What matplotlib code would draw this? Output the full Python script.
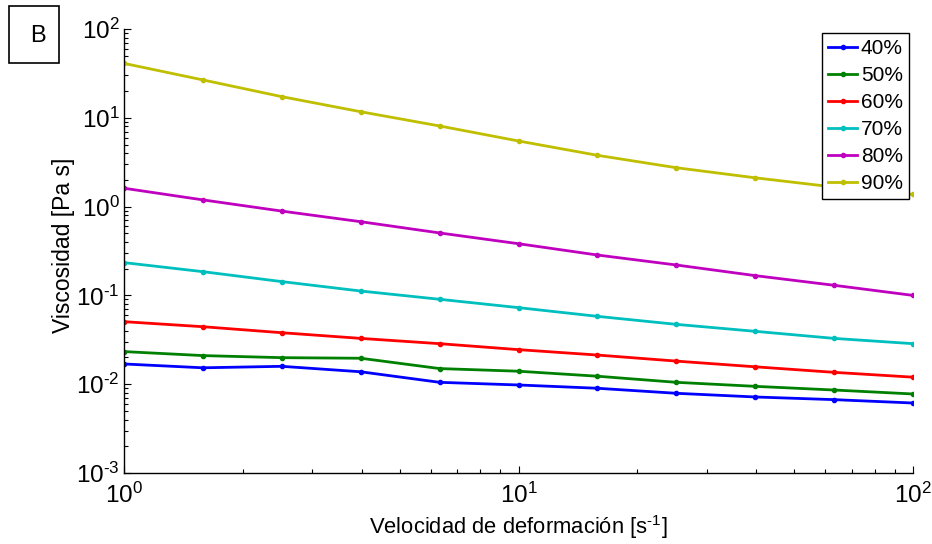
import matplotlib
matplotlib.use("Agg")
import matplotlib.pyplot as plt
import numpy as np
from matplotlib.ticker import LogLocator, NullFormatter, FixedLocator
from matplotlib.patches import Rectangle

plt.rcParams['font.family'] = ['Liberation Sans', 'DejaVu Sans']
plt.rcParams['mathtext.fontset'] = 'custom'
plt.rcParams['mathtext.rm'] = 'Liberation Sans'
plt.rcParams['mathtext.it'] = 'Liberation Sans:italic'
plt.rcParams['mathtext.bf'] = 'Liberation Sans:bold'

shear_rate = [1.0, 1.585, 2.512, 3.981, 6.310, 10.0, 15.85, 25.12, 39.81, 63.10, 100.0]
labels = ['40%', '50%', '60%', '70%', '80%', '90%']
visc_40 = [0.0169, 0.0153, 0.0159, 0.0138, 0.0105, 0.0098, 0.0090, 0.0079, 0.00718, 0.0067, 0.00614]
visc_50 = [0.0233, 0.0210, 0.0199, 0.0196, 0.0150, 0.0140, 0.0123, 0.0105, 0.00946, 0.0086, 0.00776]
visc_60 = [0.0506, 0.0444, 0.0380, 0.0328, 0.0286, 0.0245, 0.0213, 0.0182, 0.0157, 0.0136, 0.0120]
visc_70 = [0.234, 0.185, 0.143, 0.112, 0.0904, 0.0728, 0.0581, 0.0472, 0.0394, 0.0328, 0.0286]
visc_80 = [1.61, 1.19, 0.89, 0.676, 0.505, 0.382, 0.285, 0.220, 0.167, 0.130, 0.100]
visc_90 = [41.0, 26.7, 17.3, 11.7, 8.09, 5.48, 3.78, 2.74, 2.11, 1.66, 1.37]
series = [visc_40, visc_50, visc_60, visc_70, visc_80, visc_90]
colors = [(0, 0, 1), (0, 0.5, 0), (1, 0, 0), (0, 0.75, 0.75), (0.75, 0, 0.75), (0.75, 0.75, 0)]
x_ticks = [1, 10, 100]
x_ticklabels = [r'$10^{0}$', r'$10^{1}$', r'$10^{2}$']
y_ticks = [1e-3, 1e-2, 1e-1, 1, 10, 100]
y_ticklabels = [r'$10^{\text{-}3}$', r'$10^{\text{-}2}$', r'$10^{\text{-}1}$', r'$10^{0}$', r'$10^{1}$', r'$10^{2}$']

fig = plt.figure(figsize=(9.32, 5.44), dpi=100)
ax = fig.add_axes([124/932, 71/544, 789/932, 444/544])

for vals, lab, col in zip(series, labels, colors):
    ax.plot(shear_rate, vals, '-', marker='.', markersize=6, color=col, lw=2.0, label=lab)

ax.set_xscale('log')
ax.set_yscale('log')
ax.set_xlim(1, 100)
ax.set_ylim(1e-3, 1e2)

ax.xaxis.set_major_locator(FixedLocator(x_ticks))
ax.yaxis.set_major_locator(FixedLocator(y_ticks))
ax.xaxis.set_minor_locator(LogLocator(base=10, subs=np.arange(2, 10)))
ax.yaxis.set_minor_locator(LogLocator(base=10, subs=np.arange(2, 10)))
ax.xaxis.set_minor_formatter(NullFormatter())
ax.yaxis.set_minor_formatter(NullFormatter())
ax.set_xticklabels(x_ticklabels)
ax.set_yticklabels(y_ticklabels)

for s in ['top', 'right']:
    ax.spines[s].set_visible(False)
for s in ['left', 'bottom']:
    ax.spines[s].set_linewidth(1.0)

ax.tick_params(which='major', direction='in', length=5, width=0.8, labelsize=17.5)
ax.tick_params(axis='x', which='major', pad=7)
ax.tick_params(axis='y', which='major', pad=3)
ax.tick_params(which='minor', direction='in', length=3, width=0.8)

ax.set_xlabel(r'Velocidad de deformación [s$^{\text{-}1}$]', fontsize=15.8, labelpad=4)
ax.set_ylabel('Viscosidad [Pa s]', fontsize=16.5)
ax.yaxis.set_label_coords((75 - 124) / 789, (473 - 245) / 444)

leg = ax.legend(loc='upper right', bbox_to_anchor=(909/932, (544-33)/544), bbox_transform=fig.transFigure,
                fontsize=15, frameon=True, fancybox=False, handlelength=1.35, handletextpad=0.2,
                borderpad=0.3, labelspacing=0.38, borderaxespad=0)
leg.get_frame().set_edgecolor('black')
leg.get_frame().set_linewidth(1.0)
leg.get_frame().set_alpha(1)

fig.patches.append(Rectangle((9/932, 1 - 63/544), 50/932, 57/544, transform=fig.transFigure,
                             fill=False, ec='black', lw=1.2))
fig.text(38/932, 1 - 36/544, 'B', fontsize=17, ha='center', va='center')

fig.savefig('out.png', dpi=100)
